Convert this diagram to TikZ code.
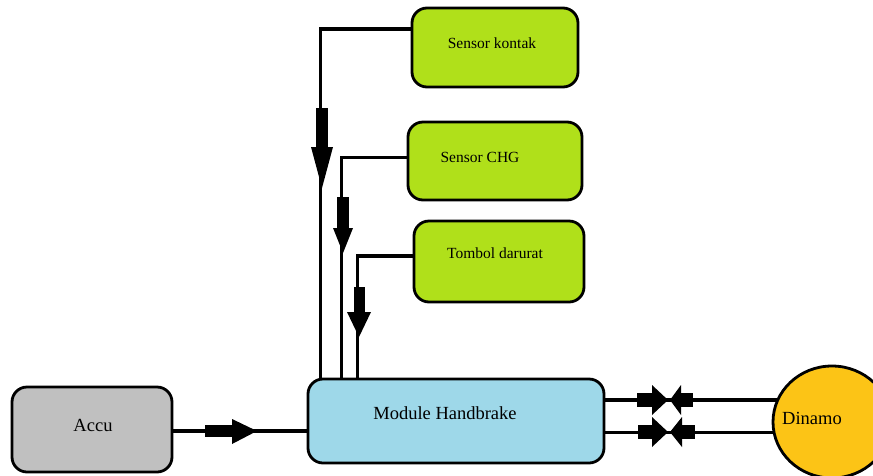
\documentclass[tikz,border=0pt]{standalone}
\usepackage{fontspec}
\setmainfont{Liberation Serif}
\usetikzlibrary{shapes.geometric,backgrounds}
\definecolor{sensgreen}{RGB}{176,224,26}
\definecolor{modblue}{RGB}{158,216,233}
\definecolor{accugray}{RGB}{192,192,192}
\definecolor{dinyellow}{RGB}{252,196,22}
\tikzset{
  box/.style={draw=black, line width=2.8pt, rounded corners=15pt, anchor=center, inner sep=0pt},
  sensbox/.style={box, fill=sensgreen},
  smalltxt/.style={font=\fontsize{15.5}{18}\selectfont, inner sep=0pt},
  bigtxt/.style={font=\fontsize{18.5}{21}\selectfont, inner sep=0pt},
  conn/.style={draw=black, line width=3.3pt},
  fatarrow/.style={fill=black},
}
\begin{document}
\begin{tikzpicture}[x=1pt,y=-1pt]
\useasboundingbox (0,0) rectangle (873,475);
% boxes
\node[sensbox, minimum width=166pt, minimum height=79pt] (kontak) at (495,47.5) {};
\node[smalltxt] (kontakt) at (492,43) {Sensor kontak};
\node[sensbox, minimum width=174pt, minimum height=78pt] (chg) at (495,161) {};
\node[smalltxt] (chgt) at (480,157) {Sensor CHG};
\node[sensbox, minimum width=170pt, minimum height=81pt] (tombol) at (499,261.5) {};
\node[smalltxt] (tombolt) at (495,253) {Tombol darurat};
\node[box, fill=modblue, minimum width=296pt, minimum height=84pt] (module) at (456,421) {};
\node[bigtxt] (modulet) at (445,413) {Module Handbrake};
\node[box, fill=accugray, minimum width=160pt, minimum height=85pt] (accu) at (92,429.5) {};
\node[bigtxt] (accut) at (93,425) {Accu};
\node[ellipse, draw=black, line width=2.8pt, fill=dinyellow, minimum width=118pt, minimum height=112pt, inner sep=0pt] (dinamo) at (832,422) {};
\node[bigtxt] (dinamot) at (812,418) {Dinamo};
% connectors
\begin{scope}[on background layer]
\draw[conn] ([yshift=18.5pt]kontak.west) -| ([xshift=14pt]module.north west) -- ([xshift=14pt]module.west);
\draw[conn] ([yshift=3.5pt]chg.west) -| ([xshift=35pt]module.north west) -- ([xshift=35pt]module.west);
\draw[conn] ([yshift=5.5pt]tombol.west) -| ([xshift=51pt]module.north west) -- ([xshift=51pt]module.west);
\draw[conn] ([yshift=-1.5pt]accu.east) -- ([yshift=-1.5pt]accu.east -| module.center);
\draw[conn] ([yshift=21pt]module.east) -- ([yshift=21pt]module.east -| dinamo.center);
\draw[conn] ([yshift=-11.5pt]module.east) -- ([yshift=-11.5pt]module.east -| dinamo.center);
\end{scope}
% arrows
\fill[fatarrow] (316,108) rectangle (328,148);
\fill[fatarrow] (311,147) -- (333,147) -- (322,188) -- cycle;
\fill[fatarrow] (337,197) rectangle (349,229);
\fill[fatarrow] (333,228) -- (353,228) -- (343,253) -- cycle;
\fill[fatarrow] (354,287) rectangle (365,313);
\fill[fatarrow] (347,312) -- (371,312) -- (359,337) -- cycle;
\fill[fatarrow] (205,425) rectangle (233,437);
\fill[fatarrow] (232,419) -- (232,444) -- (257,431) -- cycle;
\fill[fatarrow] (637,393) rectangle (653,407);
\fill[fatarrow] (652,385) -- (652,415) -- (668,400) -- cycle;
\fill[fatarrow] (670,400) -- (681,385) -- (681,415) -- cycle;
\fill[fatarrow] (680,393) rectangle (693,407);
\fill[fatarrow] (638,425) rectangle (653,439);
\fill[fatarrow] (652,417) -- (652,447) -- (668,432) -- cycle;
\fill[fatarrow] (670,432) -- (682,417) -- (682,447) -- cycle;
\fill[fatarrow] (681,425) rectangle (695,439);
\end{tikzpicture}
\end{document}
